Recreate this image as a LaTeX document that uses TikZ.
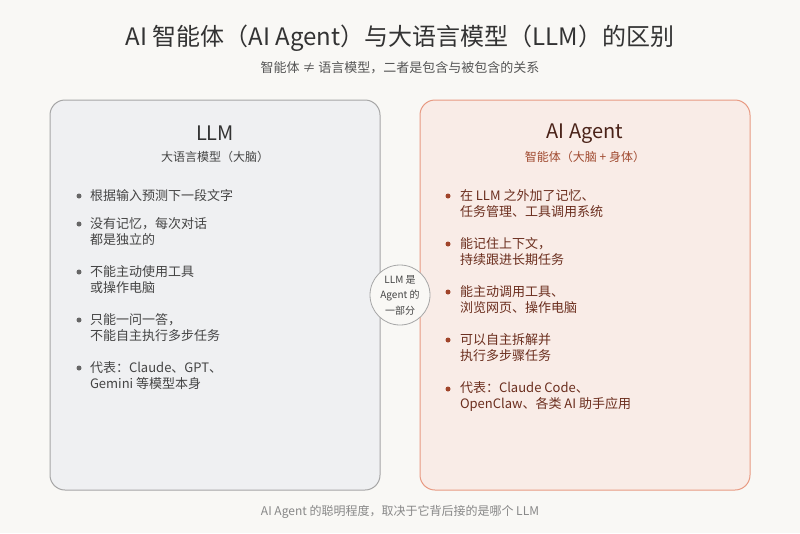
\documentclass[tikz,border=0pt]{standalone}
\usepackage{fontspec}
\setmainfont{Noto Sans CJK SC}
\begin{document}
\begin{tikzpicture}[x=1pt,y=-1pt,
  every node/.style={inner sep=0pt,outer sep=0pt},
  boxL/.style={draw=gray!70,fill=boxLfill,line width=1pt,rounded corners=15pt},
  boxR/.style={draw=boxRdraw,fill=boxRfill,line width=1pt,rounded corners=15pt},
  ltxt/.style={anchor=west,align=left,font=\fontsize{13}{16}\selectfont,text=ltext},
  rtxt/.style={anchor=west,align=left,font=\fontsize{13}{16}\selectfont,text=rtext},
  ldot/.style={circle,fill=ldotc,minimum size=5pt},
  rdot/.style={circle,fill=rdotc,minimum size=5pt}]
\definecolor{bg}{HTML}{F9F8F5}
\definecolor{boxLfill}{HTML}{EFF0F2}
\definecolor{boxRfill}{HTML}{F9ECE7}
\definecolor{boxRdraw}{HTML}{E89A82}
\definecolor{ltext}{HTML}{444444}
\definecolor{ldotc}{HTML}{666666}
\definecolor{rtext}{HTML}{6B2E1E}
\definecolor{rdotc}{HTML}{A0442A}
\definecolor{rsub}{HTML}{A04A30}
\definecolor{rtitle}{HTML}{4A2218}
\fill[bg] (0,0) rectangle (800,533);
\useasboundingbox (0,0) rectangle (800,533);
\node (title) at (400,38) {\fontsize{24}{28}\selectfont\color[HTML]{333333}AI 智能体（AI Agent）与大语言模型（LLM）的区别};
\node (sub) at (400,68) {\fontsize{13}{16}\selectfont\color[HTML]{555555}智能体 ≠ 语言模型，二者是包含与被包含的关系};
\draw[boxL] (50,100) rectangle (380,490);
\draw[boxR] (420,100) rectangle (750,490);
\node (lt) at (215,133.5) {\fontsize{20}{24}\selectfont\color[HTML]{333333}LLM};
\node (ls) at (215,157) {\fontsize{12}{14}\selectfont\color[HTML]{444444}大语言模型（大脑）};
\node (rt) at (585,133.5) {\fontsize{20}{24}\selectfont\color{rtitle}AI Agent};
\node (rs) at (585,157) {\fontsize{12}{14}\selectfont\color{rsub}智能体（大脑 + 身体）};
% left bullets
\node[ldot] (ld1) at (79,196) {};
\node[ltxt] (l1) at (90,196) {根据输入预测下一段文字};
\node[ldot] (ld2) at (79,224) {};
\node[ltxt] (l2) at (90,232) {没有记忆，每次对话\\都是独立的};
\node[ldot] (ld3) at (79,272) {};
\node[ltxt] (l3) at (90,280) {不能主动使用工具\\或操作电脑};
\node[ldot] (ld4) at (79,320) {};
\node[ltxt] (l4) at (90,328) {只能一问一答，\\不能自主执行多步任务};
\node[ldot] (ld5) at (79,368) {};
\node[ltxt] (l5) at (90,376) {代表：Claude、GPT、\\Gemini 等模型本身};
% right bullets
\node[rdot] (rd1) at (448,196) {};
\node[rtxt] (r1) at (460,204) {在 LLM 之外加了记忆、\\任务管理、工具调用系统};
\node[rdot] (rd2) at (448,244) {};
\node[rtxt] (r2) at (460,252) {能记住上下文，\\持续跟进长期任务};
\node[rdot] (rd3) at (448,292) {};
\node[rtxt] (r3) at (460,300) {能主动调用工具、\\浏览网页、操作电脑};
\node[rdot] (rd4) at (448,340) {};
\node[rtxt] (r4) at (460,348) {可以自主拆解并\\执行多步骤任务};
\node[rdot] (rd5) at (448,389) {};
\node[rtxt] (r5) at (460,397) {代表：Claude Code、\\OpenClaw、各类 AI 助手应用};
% circle
\node[circle,draw=gray!70,fill=bg,line width=0.8pt,minimum size=60pt,align=center,
  font=\fontsize{10}{15.5}\selectfont,text=ltext] (c) at (400,295) {LLM 是\\Agent 的\\一部分};
\node (foot) at (400,512) {\fontsize{12}{14}\selectfont\color[HTML]{888888}AI Agent 的聪明程度，取决于它背后接的是哪个 LLM};
\end{tikzpicture}
\end{document}
